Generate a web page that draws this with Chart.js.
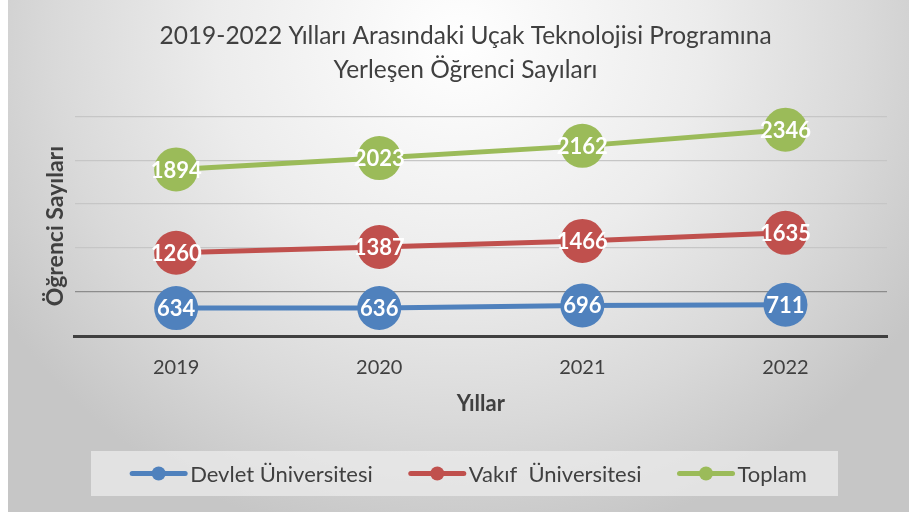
<!DOCTYPE html>
<html>
<head>
<meta charset="utf-8">
<script src="https://cdn.jsdelivr.net/npm/chart.js@4/dist/chart.umd.min.js"></script>
<style>
  html, body { margin: 0; padding: 0; background: #fff; }
  #box {
    position: absolute; left: 8px; top: 0; width: 901px; height: 512px;
    background: radial-gradient(ellipse 60% 100% at 50% 8%, #ffffff 0%, #ececec 45%, #d9d9d9 75%, #c6c6c6 100%);
  }
</style>
</head>
<body>
<div id="box"><canvas id="chart"></canvas></div>
<script>
const years = ['2019', '2020', '2021', '2022'];
const devlet = [634, 636, 696, 711];
const vakif = [1260, 1387, 1466, 1635];
const toplam = [1894, 2023, 2162, 2346];
const seriesNames = ['Devlet Üniversitesi', 'Vakıf  Üniversitesi', 'Toplam'];
const colors = ['#4F81BD', '#C0504D', '#9BBB59'];

const FONT = 'Lato';
const TEXT = '#404040';

// white value inside every point
const pointLabels = {
    id: 'pointLabels',
    afterDatasetsDraw(chart) {
        const { ctx } = chart;
        ctx.save();
        ctx.font = `bold 22px ${FONT}`;
        ctx.fillStyle = '#fff';
        ctx.textAlign = 'center';
        ctx.textBaseline = 'middle';
        chart.data.datasets.forEach((ds, i) => {
            chart.getDatasetMeta(i).data.forEach((pt, j) => {
                ctx.fillText(String(ds.data[j]), pt.x, pt.y + 1);
            });
        });
        ctx.restore();
    }
};

// excel-like legend in a light box under the axis
const boxLegend = {
    id: 'boxLegend',
    afterDraw(chart) {
        const { ctx } = chart;
        const top = chart.height - 61, h = 45, left = 83, right = 830;
        ctx.save();
        ctx.fillStyle = 'rgba(235,235,235,0.75)';
        ctx.fillRect(left, top, right - left, h);
        ctx.font = `22px ${FONT}`;
        ctx.textBaseline = 'middle';
        const markW = 57, gapText = 3, gapItem = 36;
        const widths = seriesNames.map(s => markW + gapText + ctx.measureText(s).width);
        const total = widths.reduce((a, b) => a + b, 0) + gapItem * (widths.length - 1);
        let x = (left + right) / 2 - total / 2 + 4;
        const cy = top + h / 2;
        seriesNames.forEach((name, i) => {
            ctx.strokeStyle = colors[i];
            ctx.lineWidth = 5;
            ctx.lineCap = 'round';
            ctx.beginPath();
            ctx.moveTo(x + 2, cy);
            ctx.lineTo(x + markW - 2, cy);
            ctx.stroke();
            ctx.fillStyle = colors[i];
            ctx.beginPath();
            ctx.arc(x + markW / 2, cy, 7, 0, Math.PI * 2);
            ctx.fill();
            ctx.fillStyle = TEXT;
            ctx.fillText(name, x + markW + gapText, cy + 1);
            x += widths[i] + gapItem;
        });
        ctx.restore();
    }
};

const makeSet = (label, data, color) => ({
    label,
    data,
    borderColor: color,
    backgroundColor: color,
    borderWidth: 5,
    pointRadius: 22,
    pointHoverRadius: 22,
    pointBorderWidth: 0,
    fill: false,
    clip: false,
});

new Chart(document.getElementById('chart'), {
    type: 'line',
    data: {
        labels: years,
        datasets: [
            makeSet(seriesNames[0], devlet, colors[0]),
            makeSet(seriesNames[1], vakif, colors[1]),
            makeSet(seriesNames[2], toplam, colors[2]),
        ],
    },
    plugins: [pointLabels, boxLegend],
    options: {
        responsive: true,
        maintainAspectRatio: false,
        animation: false,
        layout: { padding: { left: 34, right: 20, top: 0, bottom: 95 } },
        plugins: {
            legend: { display: false },
            tooltip: { enabled: false },
            title: {
                display: true,
                text: ['2019-2022 Yılları Arasındaki Uçak Teknolojisi Programına', 'Yerleşen Öğrenci Sayıları'],
                color: TEXT,
                font: { family: FONT, size: 24.5, weight: 'normal', lineHeight: 1.35 },
                padding: { top: 20, bottom: 30 },
            },
        },
        scales: {
            x: {
                offset: true,
                afterFit: scale => { scale.height = 81; },
                grid: { display: false, drawTicks: false },
                border: { color: '#404040', width: 3 },
                ticks: { color: TEXT, font: { family: FONT, size: 20 }, padding: 20 },
                title: {
                    display: true,
                    text: 'Yıllar',
                    color: TEXT,
                    font: { family: FONT, size: 22, weight: 'bold' },
                    padding: { top: 15, bottom: 0 },
                },
            },
            y: {
                stacked: true,
                min: 0,
                max: 5000,
                ticks: { display: false, stepSize: 1000 },
                border: { display: false },
                grid: {
                    drawTicks: false,
                    color: c => c.tick.value === 0 ? '#404040' : (c.tick.value === 1000 ? '#8c8c8c' : '#c6c6c6'),
                    lineWidth: c => c.tick.value === 0 ? 3 : 1.2,
                },
                title: {
                    display: true,
                    text: 'Öğrenci Sayıları',
                    color: TEXT,
                    font: { family: FONT, size: 23, weight: 'bold' },
                    padding: { top: 0, bottom: 5 },
                },
            },
        },
    },
});
</script>
</body>
</html>
